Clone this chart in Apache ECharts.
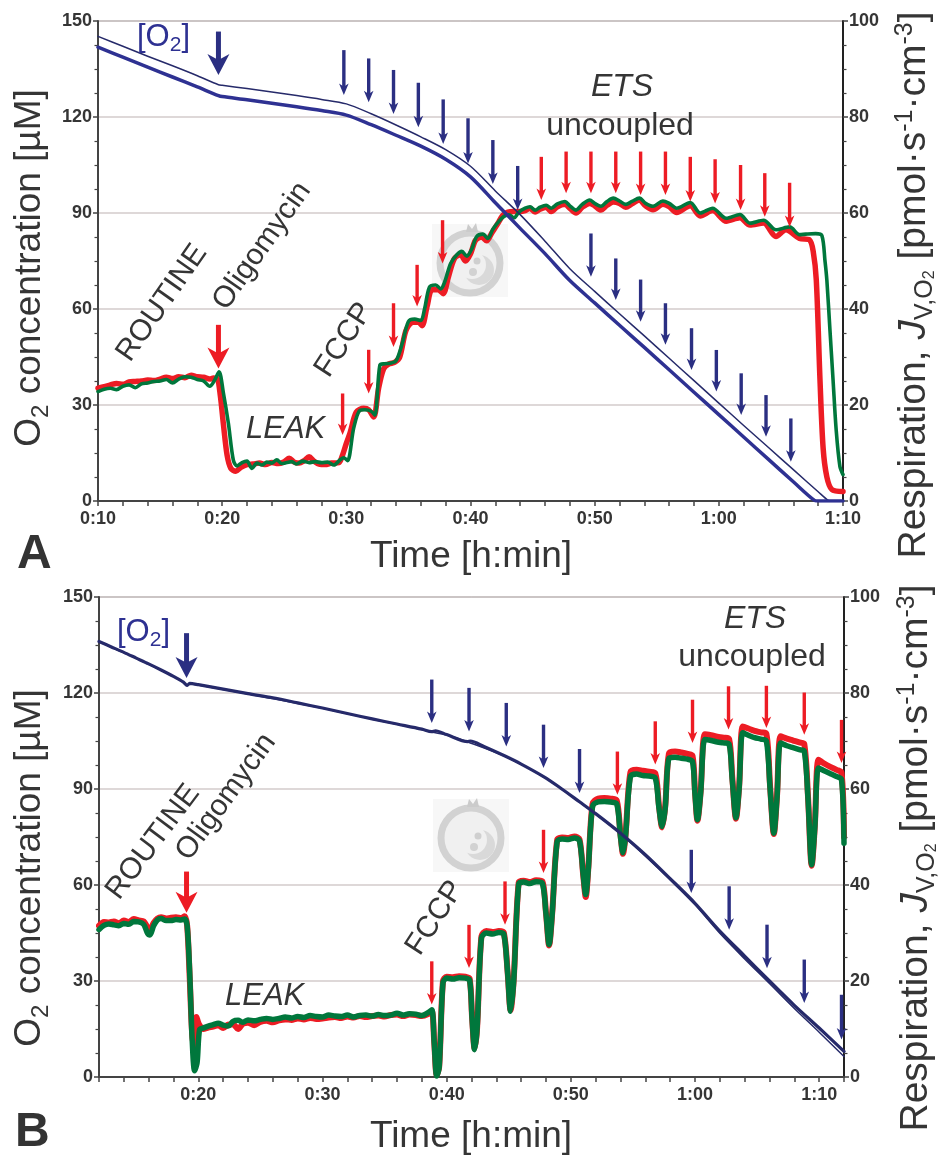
<!DOCTYPE html>
<html>
<head>
<meta charset="utf-8">
<script src="https://cdn.jsdelivr.net/npm/echarts@6/dist/echarts.min.js"></script>
<style>
  html, body { margin: 0; padding: 0; background: #fff; }
  #chart { width: 944px; height: 1156px; }
</style>
</head>
<body>
<div id="chart"></div>
<script>
// ---------- Panel A: time in minutes, O2 in µM, respiration in pmol·s-1·cm-3 ----------
const o2ThickA = [[10,141.8],[12,138.7],[14,135.6],[16,132.5],[18,129.4],[19.7,126.7],[20,126.4],[22,125.4],[24,124.3],[26,123.2],[28,122.0],[30,120.6],[32,117.6],[34,114.3],[36,110.9],[38,106.8],[40,101.3],[42,93.2],[44,85.2],[46,77.3],[48,68.9],[50,61.9],[52,54.9],[54,48.0],[56,41.0],[58,34.0],[60,27.0],[62,20.0],[64,13.0],[66,6.0],[67.7,0.2],[68,0],[70,0]];
const o2ThinA = [[10,145.2],[12,142.1],[14,139.0],[16,136.0],[18,132.9],[19.7,130.1],[20,129.9],[22,128.9],[24,127.8],[26,126.7],[28,125.5],[30,124.1],[32,121.0],[34,117.5],[36,113.8],[38,109.8],[40,104.6],[42,96.9],[44,89.5],[46,81.2],[48,72.6],[50,65.5],[52,58.5],[54,51.6],[56,44.6],[58,37.6],[60,30.6],[62,23.6],[64,16.7],[66,9.8],[68,2.9],[68.8,0.2],[69,0],[70,0]];
const greenA = [[10,22.8],[10.5,23.3],[11,23.5],[11.5,23.2],[12,23.9],[12.5,24.2],[13,23.6],[13.5,24.4],[14,24.6],[14.5,24.9],[15,25.0],[15.5,25.3],[16,24.6],[16.5,25.4],[17,25.9],[17.5,25.8],[18,25.3],[18.5,25.0],[19,23.9],[19.4,25.2],[19.75,26.9],[20.1,22.5],[20.5,16.2],[20.9,8.5],[21.2,7.3],[21.6,8.0],[22,8.3],[22.4,6.8],[22.8,7.9],[23.2,7.5],[23.6,8.1],[24,7.9],[24.4,8.6],[24.8,7.8],[25.2,8.0],[25.6,8.2],[26,7.7],[26.5,8.3],[27,8.0],[27.5,8.2],[28,8.0],[28.5,8.1],[29,7.5],[29.5,8.6],[29.8,9.0],[30.1,8.4],[30.6,15.3],[31.1,18.9],[31.5,19.0],[32,18.7],[32.3,17.9],[32.7,28.3],[33.1,28.6],[33.5,28.7],[34,29.2],[34.5,32.8],[35,37.4],[35.5,37.9],[36,37.6],[36.3,40.0],[36.7,44.6],[37.2,45.0],[37.6,44.2],[37.9,45.5],[38.4,49.5],[38.9,51.3],[39.3,52.0],[39.7,51.0],[40.1,52.5],[40.5,55.1],[41,55.6],[41.4,54.7],[41.8,56.6],[42.3,58.3],[42.7,59.3],[43.1,59.6],[43.5,59.0],[43.9,60.2],[44.4,61.0],[44.8,61.3],[45.2,60.6],[45.6,61.2],[46.1,61.6],[46.5,61.0],[47,61.9],[47.6,62.4],[48,61.5],[48.5,60.6],[49,61.8],[49.6,62.7],[50,62.0],[50.5,61.4],[51,62.4],[51.5,63.1],[52,62.5],[52.5,61.8],[53,62.4],[53.6,63.1],[54.1,62.0],[54.7,61.4],[55.5,62.5],[56,62.0],[56.6,61.0],[57.7,62.2],[58.5,60.0],[59.5,61.0],[60.6,58.9],[61.7,59.7],[62.5,57.9],[63.6,58.5],[64.6,56.5],[65.7,57.1],[66.5,55.5],[67,55.6],[67.8,55.7],[68.3,55.3],[68.55,50.0],[68.7,46.0],[68.95,35.6],[69.2,25.2],[69.45,14.8],[69.75,7.2],[70,5.5]];
const redA = [[10,23.5],[10.5,23.8],[11,24.2],[11.5,24.5],[12,24.3],[12.5,24.8],[13,24.9],[13.5,25.0],[14,25.2],[14.5,25.1],[15,25.4],[15.5,25.8],[16,25.5],[16.5,25.9],[17,25.7],[17.5,26.2],[18,25.9],[18.5,25.8],[19,25.4],[19.3,25.6],[19.6,25.5],[19.85,22.0],[20.1,16.0],[20.4,9.5],[20.7,6.8],[21.1,6.2],[21.5,7.0],[22,7.6],[22.5,7.7],[23,7.9],[23.5,7.6],[24,8.0],[24.5,7.8],[25,8.2],[25.4,8.9],[25.8,8.1],[26.2,7.9],[26.6,8.4],[27,9.2],[27.4,8.3],[27.8,7.7],[28.3,7.6],[28.8,7.9],[29.4,8.0],[29.7,9.6],[30.0,12.0],[30.3,14.2],[30.8,18.5],[31.4,19.3],[31.8,19.0],[32.2,17.5],[32.6,23.5],[33,27.5],[33.4,28.5],[33.9,28.9],[34.3,30.0],[34.8,35.5],[35.3,37.2],[35.8,37.3],[36.1,36.5],[36.5,40.5],[36.9,44.0],[37.4,44.0],[37.8,43.2],[38.2,46.5],[38.7,50.5],[39.2,51.3],[39.6,50.0],[40.0,51.5],[40.4,54.3],[40.9,55.0],[41.3,54.2],[41.7,55.8],[42.2,57.8],[42.6,59.5],[43,60.2],[43.5,60.3],[44,60.3],[44.4,60.5],[44.8,61.0],[45.2,60.2],[45.6,60.8],[46.1,61.2],[46.5,60.3],[47,61.3],[47.6,61.8],[48,61.0],[48.5,60.0],[49,61.2],[49.6,62.0],[50,61.5],[50.5,60.6],[51,61.6],[51.5,62.3],[52,62.0],[52.5,61.2],[53,61.9],[53.6,62.7],[54.1,61.5],[54.7,60.7],[55.5,61.8],[56,61.3],[56.6,60.1],[57.7,61.5],[58.5,59.4],[59.5,60.5],[60.6,58.3],[61.7,59.0],[62.5,57.5],[63.6,57.9],[64.6,55.1],[65.4,56.5],[66.5,54.7],[67.3,54.4],[67.6,52.0],[67.85,46.0],[68.15,25.0],[68.4,11.0],[68.7,5.0],[69.1,2.4],[70,2.0]];

// titration marks, panel A: [time, start, end] (O2 axis for blue, respiration axis for red)
const o2MarkA = [[19.7,146.7,133.1]];
const oligoMarkA = [[19.7,36.7,27.6]];
const blueStepsA = [[29.8,140.9,126.9],[31.8,138.3,124.6],[33.8,134.7,120.9],[35.8,130.7,116.8],[37.8,125.5,111.6],[39.8,119.6,105.5],[41.8,112.8,99.1],[43.8,104.7,90.9],[49.7,83.6,70.1],[51.7,75.8,62.8],[53.7,69.2,56.0],[55.7,61.8,48.8],[57.8,54.0,40.9],[59.8,47.2,34.2],[61.8,39.9,26.9],[63.8,33.1,20.1],[65.8,25.8,12.3]];
const redStepsA = [[29.7,22.4,13.75],[31.8,31.5,22.4],[33.8,41.2,32.1],[35.7,49.2,40.5],[37.75,58.5,49.5],[45.7,71.7,62.7],[47.7,72.8,64.1],[49.7,72.8,64.1],[51.7,72.8,64.1],[53.7,72.8,63.75],[55.7,72.8,63.75],[57.7,71.7,62.4],[59.7,71.2,62.0],[61.75,70.0,60.6],[63.7,68.3,59.2],[65.7,66.3,57.1]];

// ---------- Panel B ----------
const o2ThickB = [[12,136.1],[13,134.4],[14,132.7],[15,130.9],[16,129.1],[17,127.2],[18,125.2],[18.8,123.4],[19.1,122.4],[19.3,123.0],[20,122.6],[22,121.2],[24,119.8],[26,118.5],[28,116.9],[30,115.3],[32,113.6],[34,111.9],[36,110.3],[38,108.7],[38.8,107.9],[39.1,108.2],[40,107.0],[41.7,104.8],[41.9,105.0],[43,103.3],[44.7,100.3],[46,97.8],[47.8,93.9],[49,90.8],[50.7,86.0],[52,82.3],[54,76.2],[56,69.5],[58,62.0],[60,54.3],[62,45.6],[64,37.8],[66,30.0],[68,22.4],[70,15.3],[72,8.0]];
const o2ThinB = [[12,136.0],[13,134.3],[14,132.6],[15,130.8],[16,129.0],[17,127.1],[18,125.1],[18.8,123.3],[19.1,122.3],[19.3,122.9],[20,122.5],[24,119.7],[30,115.2],[34,111.8],[38,108.6],[38.8,107.8],[40,106.9],[41.7,104.7],[44.7,100.2],[47.8,93.8],[50.7,85.9],[54,76.0],[58,61.6],[60,53.8],[62,44.9],[64,36.9],[66,29.2],[68,21.4],[70,14.0],[72,6.4]];
const greenB = [[12,30.7],[12.4,31.6],[12.8,31.9],[13.2,31.7],[13.6,31.5],[14,32.0],[14.4,31.8],[14.8,32.4],[15.2,32.3],[15.6,31.8],[15.9,30.0],[16.1,29.6],[16.4,31.5],[16.7,32.7],[17,33.0],[17.4,32.6],[17.8,32.6],[18.2,32.8],[18.6,32.7],[18.9,32.9],[19.1,31.5],[19.3,22.0],[19.5,8.0],[19.7,1.3],[19.9,3.0],[20.1,9.9],[20.4,10.2],[20.8,10.6],[21.2,10.9],[21.6,11.2],[22,10.8],[22.4,10.6],[22.8,11.6],[23.2,11.8],[23.6,11.4],[24,11.9],[24.5,11.7],[25,12.0],[25.5,12.2],[26,12.0],[26.5,12.2],[27,12.5],[27.5,12.3],[28,12.6],[28.5,12.4],[29,12.8],[29.5,12.6],[30,12.5],[30.5,12.9],[31,12.7],[31.5,12.6],[32,12.9],[32.5,12.5],[33,12.8],[33.5,12.9],[34,12.7],[34.5,13.0],[35,12.8],[35.5,12.9],[36,13.3],[36.5,12.9],[37,13.2],[37.5,13.1],[38,12.8],[38.5,13.4],[38.8,14.0],[39.0,7.0],[39.2,0.2],[39.4,2.0],[39.7,19.6],[40,20.6],[40.5,20.4],[41,20.7],[41.5,20.6],[41.85,20.2],[42.05,12.0],[42.25,5.7],[42.45,10.0],[42.8,29.0],[43.2,30.0],[43.7,29.8],[44.2,30.1],[44.6,29.8],[44.9,22.0],[45.15,13.7],[45.4,20.0],[45.8,40.2],[46.2,40.6],[46.7,40.3],[47.2,40.7],[47.7,40.4],[48.0,34.0],[48.25,27.6],[48.5,34.0],[48.9,49.1],[49.3,49.6],[49.8,49.5],[50.3,49.8],[50.7,49.2],[51.0,42.0],[51.2,38.0],[51.4,43.0],[51.75,56.4],[52.2,57.3],[52.7,57.4],[53.2,57.3],[53.7,56.9],[54.0,50.0],[54.2,46.7],[54.4,50.0],[54.8,62.6],[55.3,63.1],[55.8,62.8],[56.3,62.7],[56.8,62.3],[57.1,56.0],[57.35,52.2],[57.6,56.0],[57.9,66.4],[58.4,66.6],[58.9,66.4],[59.4,66.2],[59.8,65.7],[60.0,59.0],[60.2,53.6],[60.45,59.0],[60.8,70.3],[61.3,70.1],[61.8,69.8],[62.3,69.6],[62.75,69.3],[63.0,62.0],[63.3,54.0],[63.55,60.0],[63.85,71.7],[64.3,71.2],[64.8,70.7],[65.3,70.4],[65.75,70.0],[66.05,60.0],[66.35,50.8],[66.6,58.0],[66.9,69.6],[67.4,69.0],[67.9,68.6],[68.4,68.2],[68.8,67.9],[69.1,58.0],[69.4,44.2],[69.65,52.0],[69.95,64.4],[70.4,63.8],[70.9,63.2],[71.4,62.6],[71.8,62.0],[72,48.7]];
const redB = [[12,31.5],[12.4,32.3],[12.8,32.2],[13.2,32.4],[13.6,32.0],[14,32.6],[14.4,32.3],[14.8,32.9],[15.2,32.6],[15.6,32.4],[15.9,31.2],[16.1,30.6],[16.4,32.1],[16.7,33.0],[17,33.3],[17.4,33.0],[17.8,33.2],[18.2,33.3],[18.6,33.1],[18.9,33.5],[19.1,31.5],[19.3,21.0],[19.5,9.0],[19.65,6.5],[19.85,12.5],[20.05,11.0],[20.4,10.0],[20.8,10.3],[21.2,10.5],[21.6,10.8],[22,10.2],[22.4,10.9],[22.8,11.0],[23.2,10.0],[23.6,11.1],[24,11.3],[24.5,10.8],[25,11.5],[25.5,11.7],[26,11.4],[26.5,11.8],[27,12.0],[27.5,11.9],[28,12.2],[28.5,12.0],[29,12.3],[29.5,12.1],[30,12.2],[30.5,12.4],[31,12.5],[31.5,12.3],[32,12.6],[32.5,12.4],[33,12.7],[33.5,12.5],[34,12.7],[34.5,12.8],[35,12.6],[35.5,12.9],[36,13.0],[36.5,12.7],[37,13.0],[37.5,12.9],[38,12.7],[38.5,13.1],[38.8,13.7],[39.0,7.2],[39.2,0.4],[39.4,2.2],[39.7,19.9],[40,20.9],[40.5,20.8],[41,21.0],[41.5,20.9],[41.85,20.5],[42.05,12.3],[42.25,5.9],[42.45,10.2],[42.8,29.3],[43.2,30.4],[43.7,30.2],[44.2,30.4],[44.6,30.1],[44.9,22.2],[45.15,13.9],[45.4,20.3],[45.8,40.5],[46.2,40.9],[46.7,40.6],[47.2,41.0],[47.7,40.8],[48.0,34.2],[48.25,27.4],[48.5,34.2],[48.9,49.4],[49.3,49.9],[49.8,49.8],[50.3,50.1],[50.7,49.5],[51.0,42.0],[51.2,37.5],[51.4,43.2],[51.75,56.9],[52.2,58.0],[52.7,58.1],[53.2,58.0],[53.7,57.6],[54.0,50.5],[54.2,46.5],[54.4,50.2],[54.8,63.5],[55.3,64.0],[55.8,63.8],[56.3,63.6],[56.8,63.3],[57.1,56.5],[57.35,52.0],[57.6,56.3],[57.9,67.4],[58.4,67.8],[58.9,67.6],[59.4,67.3],[59.8,66.9],[60.0,59.5],[60.2,53.4],[60.45,59.3],[60.8,71.4],[61.3,71.2],[61.8,70.9],[62.3,70.7],[62.75,70.4],[63.0,62.5],[63.3,53.8],[63.55,60.3],[63.85,73.0],[64.3,72.6],[64.8,72.1],[65.3,71.8],[65.75,71.5],[66.05,60.5],[66.35,50.6],[66.6,58.3],[66.9,71.0],[67.4,70.5],[67.9,70.1],[68.4,69.7],[68.8,69.4],[69.1,58.5],[69.4,44.0],[69.65,52.3],[69.95,66.1],[70.4,65.3],[70.9,64.6],[71.4,64.0],[71.8,63.4],[72,50.0]];

const o2MarkB = [[19.05,138.7,124.7]];
const oligoMarkB = [[19.05,42.8,34.2]];
const blueStepsB = [[38.8,124.2,110.6],[41.8,121.6,108.0],[44.8,116.9,103.3],[47.8,110.1,96.6],[50.7,102.5,88.75],[59.7,71.0,57.5],[62.75,59.6,46.0],[65.8,47.6,34.0],[68.8,36.7,23.1],[71.8,25.7,11.7]];
const redStepsB = [[38.8,24.1,15.1],[41.8,31.7,22.7],[44.7,40.75,31.7],[47.8,51.5,42.5],[53.75,67.8,58.8],[56.8,74.1,65.1],[59.8,78.6,69.6],[62.7,81.4,72.4],[65.75,81.5,72.7],[68.8,80.1,71.3],[71.8,74.4,65.4]];

// ---------- styling ----------
const FONT = '"Liberation Sans", Arial, Helvetica, sans-serif';
const TXT = '#353535';
const RED = '#ed1c24';
const GREEN = '#00773c';
const BLUE = '#2e3192';
const NAVY = '#262a6a';
const ARROW_BLUE = '#2b2f82';

function hm(v) {
  const h = Math.floor(v / 60);
  const m = Math.round(v - h * 60);
  return h + ':' + (m < 10 ? '0' : '') + m;
}

function xAxisFor(gridIndex, min, max) {
  return {
    gridIndex, type: 'value', min, max, interval: 2,
    axisLine: { show: true, onZero: false, lineStyle: { color: '#444', width: 2 } },
    axisTick: { show: true, length: 5, lineStyle: { color: '#444', width: 1.5 } },
    axisLabel: {
      margin: 9, fontSize: 18, fontWeight: 'bold', color: TXT, fontFamily: FONT,
      formatter: v => (Math.round(v) % 10 === 0 ? hm(Math.round(v)) : '')
    },
    splitLine: { show: false }
  };
}

function yAxisFor(gridIndex, side, max, interval) {
  const left = side === 'left';
  return {
    gridIndex, type: 'value', position: side, min: 0, max, interval,
    axisLine: { show: true, onZero: false, lineStyle: { color: left ? '#444' : '#222', width: 2 } },
    axisTick: { show: true, length: 5, lineStyle: { color: '#444', width: 1.5 } },
    minorTick: { show: true, splitNumber: 4, length: 3.5, lineStyle: { color: '#444', width: 1.2 } },
    axisLabel: { margin: 6, fontSize: 18, fontWeight: 'bold', color: TXT, fontFamily: FONT },
    splitLine: left ? { show: true, lineStyle: { color: '#d3cbcb', width: 1.5 } } : { show: false },
    minorSplitLine: { show: false }
  };
}

function line(data, xi, yi, color, width, z) {
  return {
    type: 'line', data, xAxisIndex: xi, yAxisIndex: yi, z,
    showSymbol: false, symbol: 'none', smooth: 0.3, silent: true,
    lineStyle: { color, width, cap: 'round', join: 'round' }
  };
}

function arrowSeries(data, xi, yi, color, big) {
  return {
    type: 'custom', data, xAxisIndex: xi, yAxisIndex: yi, z: 20, silent: true, clip: false,
    encode: { x: 0, y: [1, 2] },
    renderItem: function (params, api) {
      const a = api.coord([api.value(0), api.value(1)]);
      const b = api.coord([api.value(0), api.value(2)]);
      const hw = big ? 11 : 4.8, hl = big ? 21 : 11.5, sw = big ? 5 : 3.4;
      const x = b[0], y = b[1];
      return {
        type: 'group',
        children: [
          { type: 'line', shape: { x1: x, y1: a[1], x2: x, y2: y - hl * 0.6 },
            style: { stroke: color, lineWidth: sw, lineCap: 'butt' } },
          { type: 'polygon', shape: { points: [[x, y], [x - hw, y - hl], [x, y - hl * 0.72], [x + hw, y - hl]] },
            style: { fill: color } }
        ]
      };
    }
  };
}

// text helpers
function label(text, x, y, opts) {
  const o = opts || {};
  const st = {
    text, fill: o.color || TXT, fontSize: o.size || 31, fontFamily: FONT,
    fontStyle: o.italic ? 'italic' : 'normal', fontWeight: o.bold ? 'bold' : 'normal',
    align: o.align || 'center', verticalAlign: 'middle',
    textAlign: o.align || 'center', textVerticalAlign: 'middle'
  };
  if (o.rich) st.rich = o.rich;
  return { type: 'text', x, y, rotation: (o.rot || 0) * Math.PI / 180, z: 100, silent: true, style: st };
}

const sz = 37;
const richLeft = {
  m: { fontSize: sz, fontFamily: FONT, fill: TXT, lineHeight: 46 },
  s: { fontSize: 24, fontFamily: FONT, fill: TXT, lineHeight: 28, verticalAlign: 'bottom' }
};
const richRight = {
  m: { fontSize: 39, fontFamily: FONT, fill: TXT, lineHeight: 48 },
  j: { fontSize: 39, fontFamily: FONT, fill: TXT, fontStyle: 'italic', lineHeight: 48 },
  s: { fontSize: 25, fontFamily: FONT, fill: TXT, lineHeight: 29, verticalAlign: 'bottom' },
  ss: { fontSize: 16, fontFamily: FONT, fill: TXT, lineHeight: 15, verticalAlign: 'bottom' },
  p: { fontSize: 25, fontFamily: FONT, fill: TXT, lineHeight: 28, verticalAlign: 'top', padding: [3, 0, 0, 0] }
};
const richO2 = {
  m: { fontSize: 31, fontFamily: FONT, fill: BLUE, lineHeight: 38 },
  s: { fontSize: 21, fontFamily: FONT, fill: BLUE, lineHeight: 24, verticalAlign: 'bottom' }
};
const leftTitle = '{m|O}{s|2}{m| concentration [µM]}';
const rightTitle = '{m|Respiration, }{j|J}{s|V,O}{ss|2}{m| [pmol·s}{p|-1}{m|·cm}{p|-3}{m|]}';

// faint round emblem drawn behind the traces
function emblem(cx, cy) {
  const g = (el) => Object.assign({ z: 0, silent: true }, el);
  return [
    g({ type: 'rect', shape: { x: cx - 38, y: cy - 39, width: 76, height: 73 }, style: { fill: '#f7f7f7' } }),
    g({ type: 'circle', shape: { cx, cy, r: 30 }, style: { fill: '#f0f0f0', stroke: '#d2d2d2', lineWidth: 7 } }),
    g({ type: 'circle', shape: { cx: cx + 9, cy: cy + 7, r: 15 }, style: { fill: '#d9d9d9' } }),
    g({ type: 'circle', shape: { cx: cx + 2, cy: cy + 2, r: 14 }, style: { fill: '#f0f0f0' } }),
    g({ type: 'circle', shape: { cx: cx + 7, cy: cy - 2, r: 3.5 }, style: { fill: '#cfcfcf' } }),
    g({ type: 'circle', shape: { cx: cx + 3, cy: cy + 9, r: 4 }, style: { fill: '#d2d2d2' } }),
    g({ type: 'polygon', shape: { points: [[cx - 4, cy - 31], [cx - 2, cy - 39], [cx + 2, cy - 34], [cx + 6, cy - 40], [cx + 8, cy - 31]] },
      style: { fill: '#cbcbcb' } })
  ];
}

const chart = echarts.init(document.getElementById('chart'), null, { renderer: 'canvas' });

chart.setOption({
  animation: false,
  backgroundColor: '#ffffff',
  grid: [
    { left: 98, top: 21, width: 745, height: 480, show: true, borderColor: '#666', borderWidth: 1, backgroundColor: 'transparent' },
    { left: 99, top: 597, width: 745, height: 480, show: true, borderColor: '#666', borderWidth: 1, backgroundColor: 'transparent' }
  ],
  xAxis: [xAxisFor(0, 10, 70), xAxisFor(1, 12, 72)],
  yAxis: [
    yAxisFor(0, 'left', 150, 30), yAxisFor(0, 'right', 100, 20),
    yAxisFor(1, 'left', 150, 30), yAxisFor(1, 'right', 100, 20)
  ],
  series: [
    // panel A
    line(redA, 0, 1, RED, 5.5, 4),
    line(greenA, 0, 1, GREEN, 3.6, 5),
    line(o2ThinA, 0, 0, NAVY, 1.5, 6),
    line(o2ThickA, 0, 0, BLUE, 3.5, 7),
    arrowSeries(o2MarkA, 0, 0, ARROW_BLUE, true),
    arrowSeries(oligoMarkA, 0, 1, RED, true),
    arrowSeries(blueStepsA, 0, 0, ARROW_BLUE, false),
    arrowSeries(redStepsA, 0, 1, RED, false),
    // panel B
    line(redB, 1, 3, RED, 6, 4),
    line(greenB, 1, 3, GREEN, 5.5, 5),
    line(o2ThinB, 1, 2, NAVY, 1.5, 6),
    line(o2ThickB, 1, 2, NAVY, 3.2, 7),
    arrowSeries(o2MarkB, 1, 2, ARROW_BLUE, true),
    arrowSeries(oligoMarkB, 1, 3, RED, true),
    arrowSeries(blueStepsB, 1, 2, ARROW_BLUE, false),
    arrowSeries(redStepsB, 1, 3, RED, false)
  ],
  graphic: [].concat(
    emblem(470, 263),
    emblem(471, 838),
    [
      // panel A annotations
      label('{m|[O}{s|2}{m|]}', 137, 37, { align: 'left', rich: richO2 }),
      label('ROUTINE', 162, 303, { rot: 55, size: 30 }),
      label('Oligomycin', 262, 246, { rot: 55, size: 30 }),
      label('LEAK', 246, 429, { align: 'left', italic: true, size: 31 }),
      label('FCCP', 344, 340, { rot: 57, size: 30 }),
      label('ETS', 622, 87, { italic: true, size: 32 }),
      label('uncoupled', 620, 126, { size: 32 }),
      label('A', 17, 555, { align: 'left', bold: true, size: 48, color: '#333' }),
      label('Time [h:min]', 471, 557, { size: sz }),
      label(leftTitle, 30, 268, { rot: 90, rich: richLeft }),
      label(rightTitle, 914, 285, { rot: 90, rich: richRight }),
      // panel B annotations
      label('{m|[O}{s|2}{m|]}', 117, 632, { align: 'left', rich: richO2 }),
      label('ROUTINE', 153, 842, { rot: 53, size: 30 }),
      label('Oligomycin', 226, 797, { rot: 54, size: 30 }),
      label('LEAK', 225, 996, { align: 'left', italic: true, size: 31 }),
      label('FCCP', 435, 918, { rot: 57, size: 30 }),
      label('ETS', 755, 619, { italic: true, size: 32 }),
      label('uncoupled', 752, 657, { size: 32 }),
      label('B', 15, 1133, { align: 'left', bold: true, size: 48, color: '#333' }),
      label('Time [h:min]', 471, 1137, { size: sz }),
      label(leftTitle, 30, 868, { rot: 90, rich: richLeft }),
      label(rightTitle, 916, 858, { rot: 90, rich: richRight })
    ]
  )
});
</script>
</body>
</html>
